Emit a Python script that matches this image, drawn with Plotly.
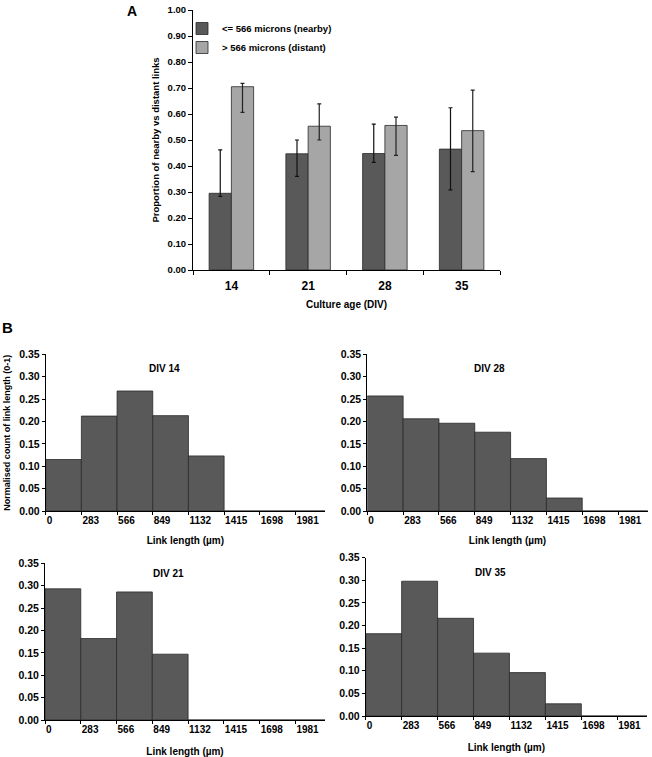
import plotly.graph_objects as go

# ---------------- Panel A data ----------------
culture_age = ["14", "21", "28", "35"]
nearby = [0.295, 0.447, 0.448, 0.465]
nearby_err_plus = [0.167, 0.053, 0.113, 0.159]
nearby_err_minus = [0.012, 0.087, 0.034, 0.157]
distant = [0.705, 0.553, 0.556, 0.536]
distant_err_plus = [0.013, 0.086, 0.032, 0.156]
distant_err_minus = [0.099, 0.053, 0.115, 0.158]
prop_ticks = [0.0, 0.1, 0.2, 0.3, 0.4, 0.5, 0.6, 0.7, 0.8, 0.9, 1.0]

# ---------------- Panel B data ----------------
bin_edges = [0, 283, 566, 849, 1132, 1415, 1698, 1981]
hist_div14 = [0.115, 0.212, 0.268, 0.213, 0.123, 0.0, 0.0, 0.0]
hist_div28 = [0.257, 0.206, 0.196, 0.176, 0.117, 0.029, 0.0, 0.0]
hist_div21 = [0.293, 0.182, 0.286, 0.147, 0.0, 0.0, 0.0, 0.0]
hist_div35 = [0.182, 0.298, 0.216, 0.139, 0.096, 0.027, 0.0, 0.0]
count_ticks = [0.0, 0.05, 0.10, 0.15, 0.20, 0.25, 0.30, 0.35]

FONT = "Liberation Sans, Arial, sans-serif"
W, H = 652, 757
DARK = "#595959"
LIGHT = "#a6a6a6"


def px_x(a, b):
    return [a / W, b / W]


def px_y(top, bottom):
    return [1 - bottom / H, 1 - top / H]


fig = go.Figure()

fig.add_trace(go.Bar(
    x=culture_age, y=nearby, name="<= 566 microns (nearby)",
    marker=dict(color=DARK, line=dict(color="#2a2a2a", width=0.8)),
    error_y=dict(type="data", symmetric=False, array=nearby_err_plus,
                 arrayminus=nearby_err_minus, color="#111111",
                 thickness=1.2, width=2),
    xaxis="x", yaxis="y"))
fig.add_trace(go.Bar(
    x=culture_age, y=distant, name="> 566 microns (distant)",
    marker=dict(color=LIGHT, line=dict(color="#2a2a2a", width=0.8)),
    error_y=dict(type="data", symmetric=False, array=distant_err_plus,
                 arrayminus=distant_err_minus, color="#222222",
                 thickness=1.2, width=2),
    xaxis="x", yaxis="y"))

hists = [("DIV 14", hist_div14, "x2", "y2"),
         ("DIV 28", hist_div28, "x3", "y3"),
         ("DIV 21", hist_div21, "x4", "y4"),
         ("DIV 35", hist_div35, "x5", "y5")]
bin_w = bin_edges[1] - bin_edges[0]
for name, vals, xa, ya in hists:
    fig.add_trace(go.Bar(
        x=bin_edges, y=vals, width=bin_w, offset=0, name=name,
        showlegend=False,
        marker=dict(color=DARK, line=dict(color="#2a2a2a", width=0.8)),
        xaxis=xa, yaxis=ya))

axis_common = dict(showline=True, linecolor="black", linewidth=1,
                   showgrid=False, zeroline=False, ticks="outside",
                   tickcolor="black", tickwidth=1, automargin=False)

layout = dict(
    width=W, height=H,
    margin=dict(l=0, r=0, t=0, b=0, autoexpand=False),
    paper_bgcolor="white", plot_bgcolor="white",
    font=dict(family=FONT, color="black"),
    barmode="group", bargap=0.42, bargroupgap=0.0,
    showlegend=True,
    legend=dict(x=182 / W, y=1 - 14 / H, xanchor="left", yanchor="top",
                bgcolor="rgba(0,0,0,0)",
                font=dict(family=FONT, size=9.5, color="black",
                          weight="bold"),
                tracegroupgap=0),
)

# Panel A axes
layout["xaxis"] = dict(axis_common, domain=px_x(193, 500), anchor="y",
                       type="category", tickson="boundaries", ticklen=4,
                       ticklabelstandoff=5,
                       tickfont=dict(size=12, weight="bold"),
                       title=dict(text="Culture age (DIV)",
                                  font=dict(size=10, weight="bold"),
                                  standoff=8))
layout["yaxis"] = dict(axis_common, domain=px_y(10, 270), anchor="x",
                       range=[0, 1.0], tickvals=prop_ticks,
                       tickformat=".2f", ticklen=4,
                       tickfont=dict(size=9.5, weight="bold"),
                       title=dict(text="Proportion of nearby vs distant links",
                                  font=dict(size=9.5, weight="bold"),
                                  standoff=6))

# Panel B axes
b_dom = {
    "2": (px_x(45.7, 325), px_y(354.3, 511)),
    "3": (px_x(367.3, 647.7), px_y(354.3, 511)),
    "4": (px_x(45, 325), px_y(563.3, 720)),
    "5": (px_x(365.7, 647), px_y(557.7, 716)),
}
for k, (xd, yd) in b_dom.items():
    layout["xaxis" + k] = dict(
        axis_common, domain=xd, anchor="y" + k, range=[0, 2215],
        tickvals=bin_edges, ticktext=[str(v) for v in bin_edges],
        ticklen=3, ticklabelposition="outside right",
        tickfont=dict(size=10, weight="bold"),
        title=dict(text="Link length (µm)",
                   font=dict(size=10, weight="bold"),
                   standoff=11 if k in ("2", "3") else 13))
    ytitle = None
    if k == "2":
        ytitle = dict(text="Normalised count of link length (0-1)",
                      font=dict(size=9, weight="bold"), standoff=7)
    layout["yaxis" + k] = dict(
        axis_common, domain=yd, anchor="x" + k, range=[0, 0.35],
        tickvals=count_ticks, tickformat=".2f", ticklen=3,
        tickfont=dict(size=10.5, weight="bold"),
        title=ytitle)


def label(text, x, y, size):
    return dict(text=text, x=x / W, y=1 - y / H, xref="paper", yref="paper",
                xanchor="center", yanchor="middle", showarrow=False,
                font=dict(size=size, weight="bold"))


layout["annotations"] = [
    label("A", 132, 11, 14),
    label("B", 7, 327, 15),
    label("DIV 14", 164, 368, 10),
    label("DIV 28", 489, 368, 10),
    label("DIV 21", 168, 573, 10),
    label("DIV 35", 490, 572, 10),
]

fig.update_layout(**layout)
fig.write_html("out.html",
               config={"displayModeBar": False},
               post_script="document.body.style.margin='0';"
                           "document.body.style.overflow='hidden';")
